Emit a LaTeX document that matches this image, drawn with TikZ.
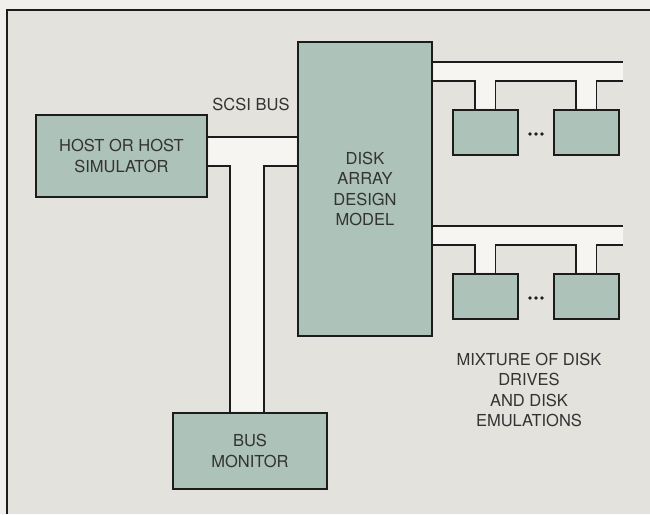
\documentclass[tikz,border=0pt]{standalone}
\usepackage{fontspec}
\setmainfont{TeX Gyre Heros}
\usetikzlibrary{positioning}
\usetikzlibrary{calc, backgrounds}

\definecolor{paper}{HTML}{F1EFEB}
\definecolor{panel}{HTML}{E4E2DD}
\definecolor{boxgreen}{HTML}{ADC2B8}
\definecolor{busfill}{HTML}{F7F5F1}
\definecolor{ink}{HTML}{1C1C1C}
\definecolor{textgray}{HTML}{333333}

\begin{document}
\begin{tikzpicture}[
    x=1pt, y=-1pt,
    unit/.style={draw=ink, fill=boxgreen, line width=2.8pt, inner sep=0pt,
        align=center, text=textgray, font=\fontsize{16.5}{20.5}\selectfont},
    disk/.style={unit, minimum width=65pt, minimum height=45pt},
    busline/.style={draw=ink, line width=1.8pt},
    caption/.style={align=center, text=textgray, font=\fontsize{16.5}{20.5}\selectfont}
]
\useasboundingbox (0,0) rectangle (650,514);

% --- Page and panel ---
\begin{pgfonlayer}{background}
\fill[paper] (0,0) rectangle (650,514);
\fill[panel] (7,10) rectangle (650,514);
\end{pgfonlayer}
\draw[ink, line width=1.8pt] (650,10) -- (7,10) -- (7,514);

% --- Main units ---
\node[unit, minimum width=171pt, minimum height=82pt] (host) at (121.5,156) {HOST OR HOST\\SIMULATOR};
\node[unit, minimum width=134pt, minimum height=294pt] (array) at (365,189) {DISK\\ARRAY\\DESIGN\\MODEL};
\node[unit, minimum width=154pt, minimum height=76pt] (monitor) at (250,451) {BUS\\MONITOR};

% --- SCSI bus ---
\coordinate (scsitop) at (0,137);
\coordinate (tapl) at (230,166);
\coordinate (tapr) at (264,166);
\begin{pgfonlayer}{background}
\fill[busfill] (host.east |- scsitop) -- (array.west |- scsitop) -- (array.west |- tapr) -- (tapr)
    -- (tapr |- monitor.north) -- (tapl |- monitor.north) -- (tapl) -- (host.east |- tapl) -- cycle;
\end{pgfonlayer}
\draw[busline] (host.east |- scsitop) -- (array.west |- scsitop);
\draw[busline] (host.east |- tapl) -- (tapl) -- (tapl |- monitor.north);
\draw[busline] (array.west |- tapr) -- (tapr) -- (tapr |- monitor.north);
\node[caption] (scsi) at (251,104) {SCSI BUS};

% --- Disk buses with drives ---
\foreach \b/\yt in {u/62, l/226}
{
    \coordinate (top\b) at (623,\yt);
    \coordinate (low\b) at (623,\yt+19);
    \node[disk] (disk\b1) at (485.5,\yt+70.5) {};
    \node[disk] (disk\b2) at (586.5,\yt+70.5) {};
    \coordinate (s\b1) at ([xshift=-10.5pt]disk\b1.north);
    \coordinate (s\b2) at ([xshift=10pt]disk\b1.north);
    \coordinate (s\b3) at ([xshift=-10.5pt]disk\b2.north);
    \coordinate (s\b4) at ([xshift=10pt]disk\b2.north);
    \begin{pgfonlayer}{background}
    \fill[busfill] (array.east |- top\b) -- (top\b) -- (low\b) -- (s\b4 |- low\b) -- (s\b4) -- (s\b3)
        -- (s\b3 |- low\b) -- (s\b2 |- low\b) -- (s\b2) -- (s\b1) -- (s\b1 |- low\b) -- (array.east |- low\b) -- cycle;
    \end{pgfonlayer}
    \draw[busline] (array.east |- top\b) -- (top\b);
    \draw[busline] (array.east |- low\b) -- (s\b1 |- low\b) -- (s\b1);
    \draw[busline] (s\b2) -- (s\b2 |- low\b) -- (s\b3 |- low\b) -- (s\b3);
    \draw[busline] (s\b4) -- (s\b4 |- low\b) -- (low\b);
    \coordinate (dots\b) at ($(disk\b1.east)!0.5!(disk\b2.west)+(0,1.5)$);
    \foreach \k in {-1,0,1}
        \fill[ink] (dots\b) ++(\k*6,0) circle (1.8pt);
}

\node[caption] (mixture) at (529,390) {MIXTURE OF DISK\\DRIVES\\AND DISK\\EMULATIONS};

\end{tikzpicture}
\end{document}
